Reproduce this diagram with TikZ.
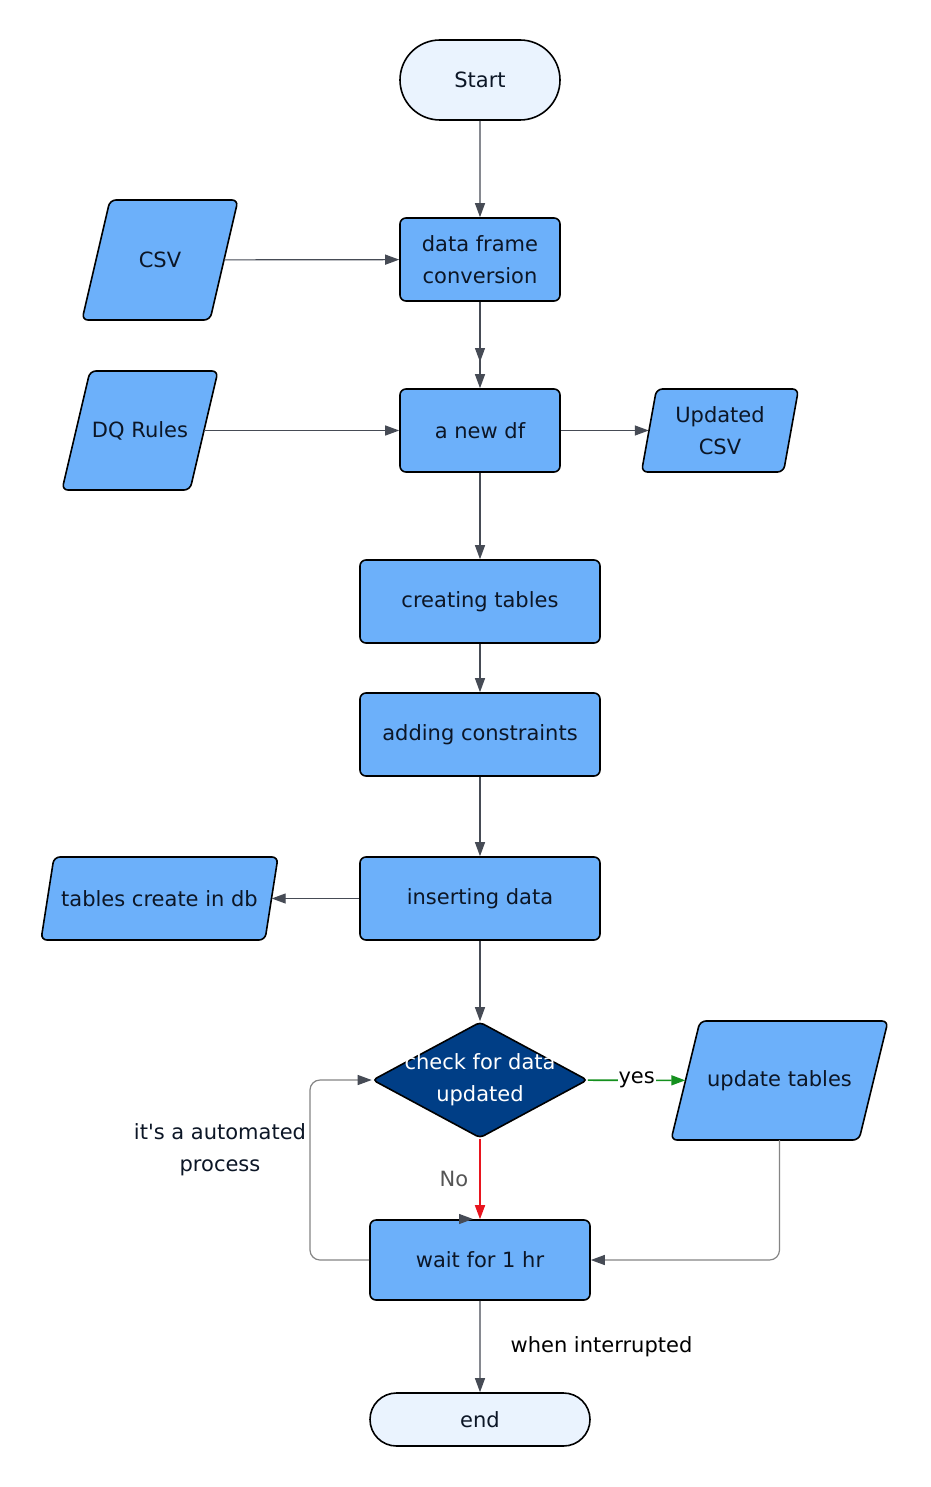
\documentclass[tikz,border=0pt]{standalone}
\usepackage{fontspec}
\setmainfont{DejaVu Sans}[Ligatures=TeXOff]
\usetikzlibrary{shapes.geometric,shapes.misc,arrows.meta}
\definecolor{boxblue}{HTML}{6CB0FA}
\definecolor{termfill}{HTML}{EAF3FE}
\definecolor{decfill}{HTML}{003E86}
\definecolor{txtc}{HTML}{0C1626}
\definecolor{arrc}{HTML}{464B55}
\definecolor{loopc}{HTML}{858585}
\definecolor{yesc}{HTML}{14901E}
\definecolor{noc}{HTML}{E8141E}
\definecolor{nolbl}{HTML}{555555}
\newcommand{\dfont}{\fontsize{21}{32}\selectfont}
\tikzset{
  base/.style={draw=black, line width=1.6pt, inner sep=0pt, align=center, font=\dfont, text=txtc},
  proc/.style={base, fill=boxblue, rounded corners=6pt},
  term/.style={base, fill=termfill, rounded rectangle},
  parashape/.style={draw=black, line width=1.6pt, fill=boxblue, rounded corners=6pt},
  paratext/.style={inner sep=0pt, align=center, font=\dfont, text=txtc},
  dec/.style={draw=black, line width=1.6pt, fill=decfill, diamond, inner sep=0pt, rounded corners=4pt},
  plain/.style={inner sep=0pt, align=center, font=\dfont, text=txtc},
  arr/.style={draw=arrc, line width=1.2pt, -{Triangle[length=14pt,width=10pt]}},
  looparr/.style={draw=loopc, line width=1.2pt, rounded corners=10pt, -{Triangle[length=14pt,width=10pt,color=arrc]}},
}
% name, cx, cy, total width, height, skew, text
\newcommand{\paranode}[7]{%
  \draw[parashape] ({#2-#4/2},{#3+#5/2}) -- ({#2+#4/2-#6},{#3+#5/2}) -- ({#2+#4/2},{#3-#5/2}) -- ({#2-#4/2+#6},{#3-#5/2}) -- cycle;
  \node[paratext, minimum width={#4-#6}, minimum height=#5] (#1) at (#2,#3) {#7};
}
\begin{document}
\begin{tikzpicture}[x=1pt,y=-1pt]
\useasboundingbox (0,0) rectangle (930,1487);
\fill[white] (0,0) rectangle (930,1487);

% nodes
\node[term, minimum width=160pt, minimum height=80pt] (start) at (480,80) {Start};
\node[proc, minimum width=160pt, minimum height=83pt] (dfc) at (480,259.5) {data frame\\conversion};
\paranode{csv}{160}{260}{156}{120}{28}{CSV}
\node[proc, minimum width=160pt, minimum height=83pt] (newdf) at (480,430.5) {a new df};
\paranode{dq}{140}{430.5}{156}{119}{28}{DQ Rules}
\paranode{ucsv}{720}{430.5}{157}{83}{15}{Updated\\CSV}
\node[proc, minimum width=240pt, minimum height=83pt] (ct) at (480,601.5) {creating tables};
\node[proc, minimum width=240pt, minimum height=83pt] (ac) at (480,734.5) {adding constraints};
\node[proc, minimum width=240pt, minimum height=83pt] (ins) at (480,898.5) {inserting data};
\paranode{tdb}{159.5}{898.5}{237}{83}{13}{tables create in db}
\node[dec, minimum width=215pt, minimum height=116pt] (chk) at (480,1080) {};
\node[plain, text=white] (chktxt) at (480,1080) {check for data\\updated};
\paranode{upd}{779.5}{1080.5}{217}{119}{29}{update tables}
\node[proc, minimum width=220pt, minimum height=80pt] (wait) at (480,1260) {wait for 1 hr};
\node[term, minimum width=220pt, minimum height=53pt] (end) at (480,1419.5) {end};
\node[plain] (autolbl) at (220,1150) {it's a automated\\process};

\coordinate (mid1) at (480,362);
\coordinate (lp) at (310,1170);
\coordinate (sa) at (459,1219);
\coordinate (sb) at (473,1219);

% connectors
\draw[arr] (start) -- (dfc);
\draw[arr] (csv) -- (dfc);
\draw[arr] (dfc) -- (newdf);
\draw[arr] (dfc) -- (mid1);
\draw[arr] (dq) -- (newdf);
\draw[arr] (newdf) -- (ucsv);
\draw[arr] (newdf) -- (ct);
\draw[arr] (ct) -- (ac);
\draw[arr] (ac) -- (ins);
\draw[arr] (ins) -- (tdb);
\draw[arr] (ins) -- (chk);
\draw[arr, draw=yesc, line width=1.6pt, -{Triangle[length=14pt,width=10pt,color=yesc]}] (chk) -- node[plain, fill=white, inner sep=1pt, text=black] {yes} (upd);
\draw[arr, draw=noc, line width=1.6pt, -{Triangle[length=14pt,width=10pt,color=noc]}] (chk) -- node[plain, left=11pt, text=nolbl] {No} (wait);
\draw[looparr] (upd) |- (wait);
\draw[looparr] (wait) -| (lp) |- (chk);
\draw[arr] (sa) -- (sb);
\draw[arr] (wait) -- node[plain, right=30pt, text=black] {when interrupted} (end);
\end{tikzpicture}
\end{document}
